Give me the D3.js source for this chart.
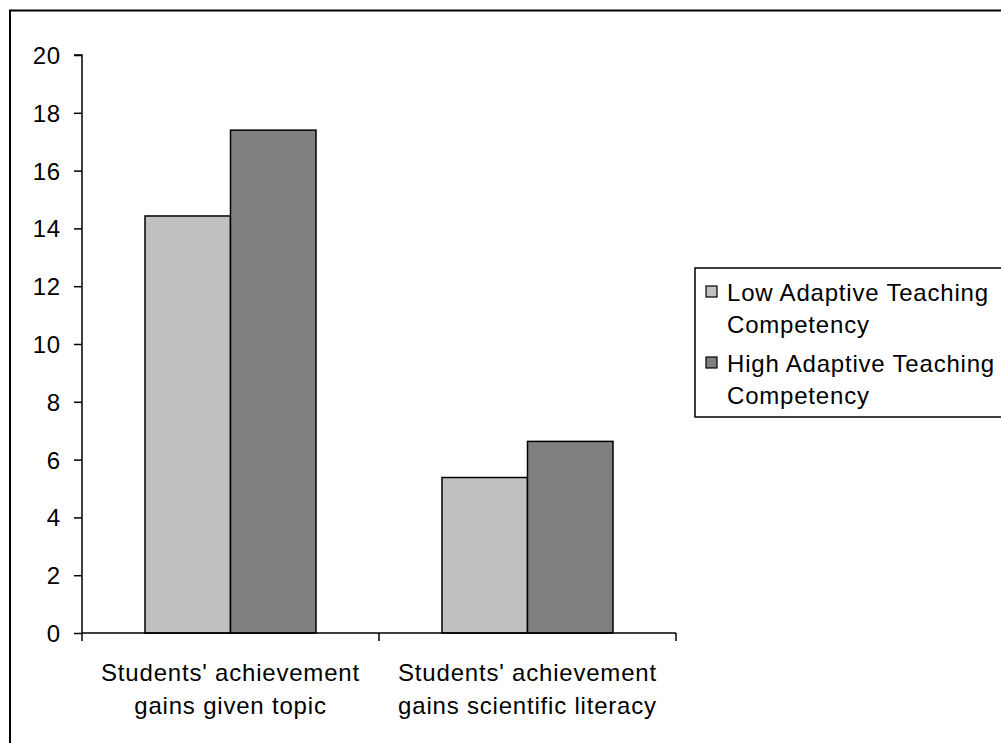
<!DOCTYPE html>
<html>
<head>
<meta charset="utf-8">
<script src="https://cdn.jsdelivr.net/npm/d3@7"></script>
<style>
  html, body { margin: 0; padding: 0; background: #fff; }
  svg { display: block; }
  text { font-family: "Liberation Sans", Arial, sans-serif; fill: #000; }
</style>
</head>
<body>
<svg id="chart" width="1001" height="743"></svg>
<script>
// Categories and series
const categories = [
  ["Students' achievement", "gains given topic"],
  ["Students' achievement", "gains scientific literacy"]
];
const seriesNames = [
  ["Low Adaptive Teaching", "Competency"],
  ["High Adaptive Teaching", "Competency"]
];
const lowValues = [14.43, 5.38];
const highValues = [17.4, 6.63];
const yTicks = [0, 2, 4, 6, 8, 10, 12, 14, 16, 18, 20];
const seriesColors = ["#c0c0c0", "#808080"];

const svg = d3.select("#chart");
const FONT = 24, LS = 0.8;

// Outer chart-area frame (runs off the right and bottom edges)
svg.append("rect")
  .attr("x", 10).attr("y", 10.5)
  .attr("width", 1100).attr("height", 1000)
  .attr("fill", "none").attr("stroke", "#000").attr("stroke-width", 2);

const plot = { left: 82, right: 676, top: 55, bottom: 633 };

const y = d3.scaleLinear().domain([0, 20]).range([plot.bottom, plot.top]);
const catKeys = categories.map((c, i) => i);
const x0 = d3.scaleBand().domain(catKeys).range([plot.left, plot.right]).padding(0);
const x1 = d3.scaleBand().domain([0, 1]).range([0, x0.bandwidth()])
  .paddingInner(0).paddingOuter(0.737);

const data = catKeys.map(i => [lowValues[i], highValues[i]]);

// Bars
const groups = svg.append("g").selectAll("g").data(data).join("g")
  .attr("transform", (d, i) => `translate(${x0(i)},0)`);
groups.selectAll("rect").data(d => d).join("rect")
  .attr("x", (d, j) => x1(j))
  .attr("y", d => y(d))
  .attr("width", x1.bandwidth())
  .attr("height", d => y(0) - y(d))
  .attr("fill", (d, j) => seriesColors[j])
  .attr("stroke", "#000").attr("stroke-width", 1.5);

// Y axis
const yAxis = d3.axisLeft(y).tickValues(yTicks).tickSize(8).tickPadding(13).tickFormat(d3.format("d"));
const gy = svg.append("g").attr("transform", `translate(${plot.left},0)`).call(yAxis);
gy.select(".domain").attr("stroke", "#000").attr("stroke-width", 1.5).attr("d", `M-8,${plot.top}H0V${plot.bottom}`);
gy.selectAll(".tick line").attr("stroke", "#000").attr("stroke-width", 1.5);
gy.selectAll(".tick text")
  .style("font-family", '"Liberation Sans", Arial, sans-serif')
  .style("font-size", FONT + "px").style("letter-spacing", LS + "px")
  .attr("dy", "0.35em");

// X axis line and category boundary ticks
const xLine = svg.append("g");
xLine.append("line")
  .attr("x1", plot.left).attr("x2", plot.right)
  .attr("y1", plot.bottom).attr("y2", plot.bottom)
  .attr("stroke", "#000").attr("stroke-width", 1.5);
const boundaries = catKeys.map(i => x0(i)).concat([x0(catKeys.length - 1) + x0.bandwidth()]);
xLine.selectAll("line.b").data(boundaries).join("line").attr("class", "b")
  .attr("x1", d => d).attr("x2", d => d)
  .attr("y1", plot.bottom).attr("y2", plot.bottom + 8)
  .attr("stroke", "#000").attr("stroke-width", 1.5);

// Category labels (two lines each)
const catLabels = svg.append("g").selectAll("text").data(categories).join("text")
  .attr("x", (d, i) => x0(i) + x0.bandwidth() / 2)
  .attr("y", 681)
  .attr("text-anchor", "middle")
  .style("font-size", FONT + "px").style("letter-spacing", LS + "px");
catLabels.selectAll("tspan").data(d => d).join("tspan")
  .attr("x", function () { return this.parentNode.getAttribute("x"); })
  .attr("dy", (d, k) => k === 0 ? 0 : 33)
  .text(d => d);

// Legend
const legend = svg.append("g");
legend.append("rect")
  .attr("x", 695).attr("y", 268)
  .attr("width", 400).attr("height", 149)
  .attr("fill", "#fff").attr("stroke", "#000").attr("stroke-width", 1.5);
const items = legend.selectAll("g.item").data(seriesNames).join("g").attr("class", "item")
  .attr("transform", (d, i) => `translate(0,${301 + i * 71})`);
items.append("rect")
  .attr("x", 706).attr("y", -15)
  .attr("width", 11).attr("height", 11)
  .attr("fill", (d, i) => seriesColors[i])
  .attr("stroke", "#000").attr("stroke-width", 1.2);
const lt = items.append("text")
  .attr("x", 727).attr("y", 0)
  .style("font-size", FONT + "px").style("letter-spacing", LS + "px");
lt.selectAll("tspan").data(d => d).join("tspan")
  .attr("x", 727)
  .attr("dy", (d, k) => k === 0 ? 0 : 32)
  .text(d => d);
</script>
</body>
</html>
